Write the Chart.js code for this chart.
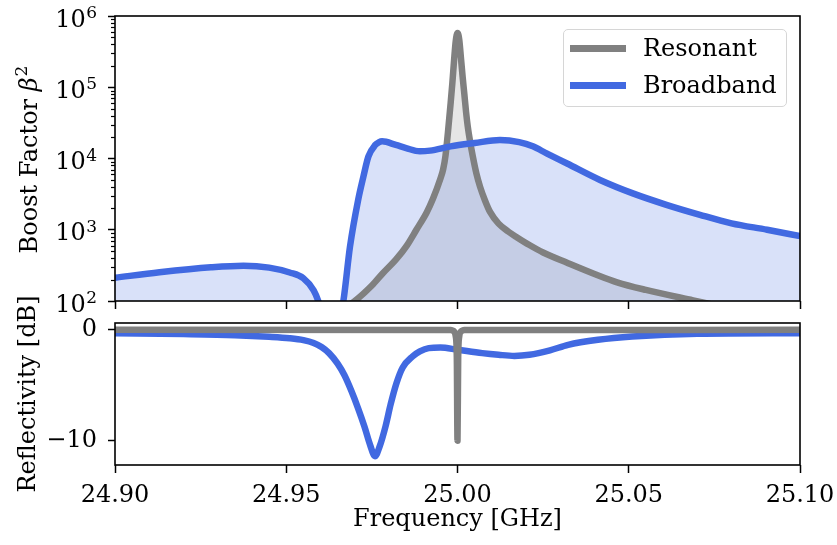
<!DOCTYPE html>
<html>
<head>
<meta charset="utf-8">
<script src="https://cdn.jsdelivr.net/npm/chart.js@4.4.1/dist/chart.umd.min.js"></script>
<style>
  body { margin: 0; background: #fff; }
  #wrap { position: relative; width: 837px; height: 545px; font-family: 'DejaVu Serif', serif; }
  canvas { position: absolute; left: 0; top: 0; }
  #legend {
    position: absolute; left: 563px; top: 29px; width: 222px; height: 76px;
    border: 1.5px solid #d6d6d6; border-radius: 5px; background: rgba(255,255,255,0.8);
  }
  .item { position: absolute; left: 0; width: 100%; height: 30px; font-size: 24px; line-height: 30px; color: #000; }
  .item span.sw { position: absolute; left: 6px; top: 11.5px; width: 56px; height: 7px; }
  .item span.lb { position: absolute; left: 79px; top: 0; white-space: nowrap; }
</style>
</head>
<body>
<div id="wrap">
  <canvas id="bottomChart" width="837" height="545"></canvas>
  <canvas id="topChart" width="837" height="545"></canvas>
  <div id="legend">
    <div class="item" style="top:3px"><span class="sw" style="background:#808080"></span><span class="lb">Resonant</span></div>
    <div class="item" style="top:40px"><span class="sw" style="background:#4169e1"></span><span class="lb">Broadband</span></div>
  </div>
</div>
<script>
// Top panel: boost factor (log scale)
const freqBoostResonant = [24.965, 24.970, 24.975, 24.9782, 24.982, 24.9852, 24.988, 24.991, 24.9928, 24.995,
  24.9958, 24.9965, 24.9972, 24.998, 24.9985, 24.999, 24.9995, 25.0000, 25.0005, 25.001, 25.0015, 25.002,
  25.0025, 25.003, 25.0036, 25.0045, 25.0055, 25.0066, 25.008, 25.0095, 25.012, 25.015, 25.0174, 25.021,
  25.025, 25.032, 25.040, 25.0466, 25.055, 25.0688, 25.075];
const boostResonant = [70, 100, 165, 245, 380, 600, 1000, 1750, 2700, 5200,
  7000, 11000, 23000, 60000, 115000, 240000, 450000, 575000, 470000, 260000, 140000, 80000,
  45000, 28000, 18200, 10500, 6200, 4000, 2600, 1780, 1220, 930, 780, 610,
  480, 345, 240, 183, 143, 102, 88];

const freqBoostBroadband = [24.900, 24.913, 24.928, 24.9375, 24.945, 24.951, 24.955, 24.958, 24.9594, 24.961,
  24.963, 24.965, 24.9667, 24.9686, 24.971, 24.9725, 24.974, 24.976, 24.977, 24.978, 24.982, 24.985, 24.989,
  24.992, 24.998, 25.005, 25.0124, 25.018, 25.022, 25.026, 25.032, 25.0416, 25.0512, 25.061, 25.0708, 25.080,
  25.0904, 25.100];
const boostBroadband = [212, 253, 297, 313, 294, 251, 209, 141, 98, 50,
  30, 45, 102, 575, 2630, 5500, 10700, 15500, 16800, 17400, 15500, 14000, 12600,
  12900, 14800, 16500, 18200, 17000, 14800, 11800, 8500, 5000, 3240, 2240, 1620, 1230,
  1000, 813];

// Bottom panel: reflectivity in dB
const freqReflResonant = [24.900, 24.998, 24.9985, 24.999, 24.9995, 24.9998, 25.0000, 25.0002, 25.0005, 25.001, 25.0015, 25.002, 25.100];
const reflResonant = [0, -0.02, -0.05, -0.15, -0.6, -2.5, -10, -2.5, -0.6, -0.15, -0.05, -0.02, 0];

const freqReflBroadband = [24.900, 24.920, 24.935, 24.945, 24.951, 24.955, 24.958, 24.9603, 24.9625, 24.965,
  24.967, 24.969, 24.971, 24.9728, 24.9745, 24.9759, 24.9773, 24.979, 24.9805, 24.9822, 24.984, 24.9869,
  24.989, 24.9916, 24.995, 25.000, 25.0072, 25.012, 25.0166, 25.021, 25.027, 25.0323, 25.041, 25.051,
  25.070, 25.100];
const reflBroadband = [-0.3, -0.38, -0.48, -0.62, -0.75, -0.92, -1.18, -1.55, -2.1, -3.05,
  -4.1, -5.5, -7.1, -8.7, -10.4, -11.4, -10.5, -8.7, -6.7, -4.8, -3.4, -2.4,
  -1.95, -1.65, -1.6, -1.8, -2.1, -2.25, -2.35, -2.25, -1.85, -1.35, -0.9, -0.6,
  -0.35, -0.3];

const freqTicks = [24.90, 24.95, 25.00, 25.05, 25.10];
const boostTicks = [1e2, 1e3, 1e4, 1e5, 1e6];
const reflTicks = [-10, 0];

const GRAY = '#808080';
const BLUE = '#4169e1';
const FONT = "'DejaVu Serif', serif";

Chart.defaults.font.family = FONT;
Chart.defaults.font.size = 24;
Chart.defaults.color = '#000';

const toPoints = (xs, ys) => xs.map((x, i) => ({ x: x, y: ys[i] }));

function fixWidth(w) {
  return s => { s.width = w; s.paddingTop = 0; s.paddingBottom = 0; };
}
function fixHeight(h) {
  return s => { s.height = h; s.paddingLeft = 0; s.paddingRight = 0; };
}

// frame around the plot area
const frame = {
  id: 'frame',
  afterDraw(chart) {
    const { ctx, chartArea: a } = chart;
    ctx.save();
    ctx.strokeStyle = '#000';
    ctx.lineWidth = 1.6;
    ctx.strokeRect(a.left, a.top, a.right - a.left, a.bottom - a.top);
    ctx.restore();
  }
};

// log minor ticks, 10^n labels with raised exponents, and the beta^2 axis title
const logAxisExtras = {
  id: 'logAxisExtras',
  afterDraw(chart) {
    const s = chart.scales.y;
    const ctx = chart.ctx;
    ctx.save();
    ctx.strokeStyle = '#000';
    ctx.lineWidth = 1.2;
    for (let d = 2; d < 6; d++) {
      for (let m = 2; m <= 9; m++) {
        const y = Math.round(s.getPixelForValue(m * Math.pow(10, d))) + 0.5;
        ctx.beginPath();
        ctx.moveTo(s.right - 4, y);
        ctx.lineTo(s.right, y);
        ctx.stroke();
      }
    }

    ctx.fillStyle = '#000';
    ctx.textBaseline = 'alphabetic';
    ctx.textAlign = 'right';
    const labelRight = s.right - 18;
    boostTicks.forEach(v => {
      const y = s.getPixelForValue(v);
      const exp = String(Math.round(Math.log10(v)));
      ctx.font = '17px ' + FONT;
      const ew = ctx.measureText(exp).width;
      ctx.fillText(exp, labelRight, y + 2);
      ctx.font = '24px ' + FONT;
      ctx.fillText('10', labelRight - ew - 0.5, y + 10.5);
    });

    // axis title
    const midY = (chart.chartArea.top + chart.chartArea.bottom) / 2 + 1.5;
    ctx.translate(37, midY);
    ctx.rotate(-Math.PI / 2);
    ctx.textAlign = 'left';
    ctx.font = '24px ' + FONT;
    const w1 = ctx.measureText('Boost Factor ').width;
    ctx.font = 'italic 24px ' + FONT;
    const w2 = ctx.measureText('β').width;
    ctx.font = '17px ' + FONT;
    const w3 = ctx.measureText('2').width;
    let x0 = -(w1 + w2 + w3) / 2;
    ctx.font = '24px ' + FONT;
    ctx.fillText('Boost Factor ', x0, 0);
    ctx.font = 'italic 24px ' + FONT;
    ctx.fillText('β', x0 + w1, 0);
    ctx.font = '17px ' + FONT;
    ctx.fillText('2', x0 + w1 + w2 + 1, -10);
    ctx.restore();
  }
};

const xAxisBase = {
  type: 'linear',
  min: 24.90,
  max: 25.10,
  afterBuildTicks: s => { s.ticks = freqTicks.map(v => ({ value: v })); },
  grid: { drawOnChartArea: false, tickLength: 8, tickColor: '#000', tickWidth: 1.5 },
  border: { display: false }
};

const lineElements = {
  point: { radius: 0 },
  line: { cubicInterpolationMode: 'monotone', borderJoinStyle: 'round', borderCapStyle: 'butt' }
};

new Chart(document.getElementById('topChart'), {
  type: 'line',
  data: {
    datasets: [
      {
        label: 'Resonant',
        data: toPoints(freqBoostResonant, boostResonant),
        borderColor: GRAY,
        backgroundColor: 'rgba(128,128,128,0.2)',
        borderWidth: 6.5,
        fill: 'start',
        order: 1,
        clip: 0
      },
      {
        label: 'Broadband',
        data: toPoints(freqBoostBroadband, boostBroadband),
        borderColor: BLUE,
        backgroundColor: 'rgba(65,105,225,0.2)',
        borderWidth: 6.5,
        fill: 'start',
        order: 0,
        clip: 0
      }
    ]
  },
  options: {
    responsive: false,
    animation: false,
    layout: { padding: { top: 16, right: 37, left: 0, bottom: 233 } },
    elements: lineElements,
    plugins: {
      legend: { display: false },
      tooltip: { enabled: false },
      filler: { drawTime: 'beforeDatasetsDraw' }
    },
    scales: {
      x: Object.assign({}, xAxisBase, {
        ticks: { display: false },
        afterFit: fixHeight(11)
      }),
      y: {
        type: 'logarithmic',
        min: 100,
        max: 1e6,
        afterBuildTicks: s => { s.ticks = boostTicks.map(v => ({ value: v })); },
        ticks: { callback: () => '' },
        grid: { drawOnChartArea: false, tickLength: 7, tickColor: '#000', tickWidth: 1.5 },
        border: { display: false },
        afterFit: fixWidth(115)
      }
    }
  },
  plugins: [frame, logAxisExtras]
});

new Chart(document.getElementById('bottomChart'), {
  type: 'line',
  data: {
    datasets: [
      {
        label: 'Resonant',
        data: toPoints(freqReflResonant, reflResonant),
        borderColor: GRAY,
        borderWidth: 6.5,
        fill: false,
        order: 0
      },
      {
        label: 'Broadband',
        data: toPoints(freqReflBroadband, reflBroadband),
        borderColor: BLUE,
        borderWidth: 6.5,
        fill: false,
        order: 1
      }
    ]
  },
  options: {
    responsive: false,
    animation: false,
    layout: { padding: { top: 323, right: 37, left: 0, bottom: 0 } },
    elements: lineElements,
    plugins: {
      legend: { display: false },
      tooltip: { enabled: false }
    },
    scales: {
      x: Object.assign({}, xAxisBase, {
        ticks: { padding: 8, callback: v => v.toFixed(2) },
        title: { display: true, text: 'Frequency [GHz]', padding: { top: 0, bottom: 11 } },
        afterFit: fixHeight(80)
      }),
      y: {
        type: 'linear',
        min: -12.2,
        max: 0.62,
        afterBuildTicks: s => { s.ticks = reflTicks.map(v => ({ value: v })); },
        ticks: {
          padding: 11,
          callback: v => (v < 0 ? '\u2212' + Math.abs(v) : String(v))
        },
        grid: { drawOnChartArea: false, tickLength: 7, tickColor: '#000', tickWidth: 1.5 },
        border: { display: false },
        title: { display: true, text: 'Reflectivity [dB]', padding: { top: 14, bottom: 0 } },
        afterFit: fixWidth(115)
      }
    }
  },
  plugins: [frame]
});
</script>
</body>
</html>
